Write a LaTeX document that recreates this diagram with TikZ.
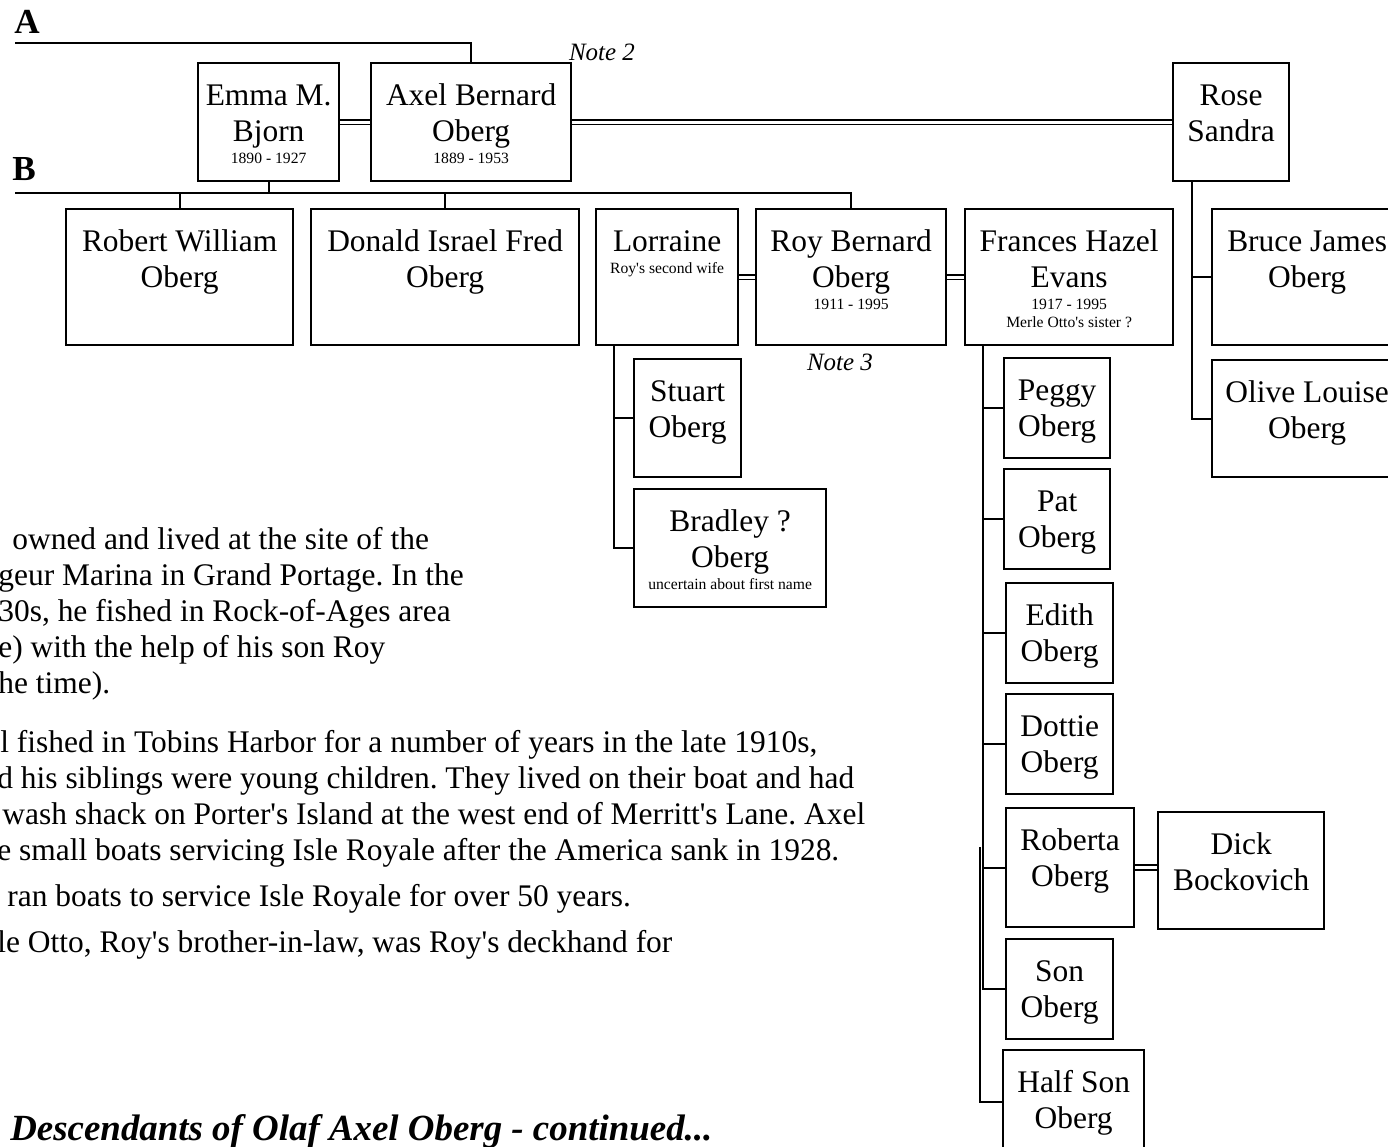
\documentclass[tikz,border=0pt]{standalone}
\usepackage{fontspec}
\setmainfont[Ligatures=TeXOff]{Liberation Serif}
\usetikzlibrary{calc}
\frenchspacing

\newdimen\px \px=0.02cm
\newcommand{\namefont}{\fontsize{17.9pt}{20.5pt}\selectfont}
\newcommand{\datefont}{\fontsize{8.9pt}{10.2pt}\selectfont}
\newcommand{\pcell}[3]{\parbox[t][#2\px][t]{#1\px}{\centering\rule{0pt}{42\px}#3}}

\tikzset{
  fam/.style={draw, line width=1.3pt, inner sep=0pt, anchor=north west, font=\namefont},
  link/.style={line width=1.3pt},
  wed/.style={double, line width=1pt, double distance=1.7pt},
  story/.style={inner sep=0pt, anchor=north west, align=left, font=\namefont},
  note/.style={font=\fontsize{14.2pt}{16pt}\selectfont\itshape},
  tag/.style={anchor=base west, inner sep=0pt, font=\fontsize{20pt}{22pt}\selectfont\bfseries}
}

\begin{document}
\begin{tikzpicture}[x=0.02cm, y=-0.02cm]

\useasboundingbox (0,0) rectangle (1388,1146);
\clip (0,0) rectangle (1388,1146);

% Generation A
\node[fam] (emma) at (197,62) {\pcell{141}{118}{Emma M.\\Bjorn\par\vspace{4\px}\datefont 1890 - 1927}};
\node[fam] (axel) at (370,62) {\pcell{200}{118}{Axel Bernard\\Oberg\par\vspace{4\px}\datefont 1889 - 1953}};
\node[fam] (rose) at (1172,62) {\pcell{116}{118}{Rose\\Sandra}};

% Generation B
\node[fam] (robert) at (65,208) {\pcell{227}{136}{Robert William\\Oberg}};
\node[fam] (donald) at (310,208) {\pcell{268}{136}{Donald Israel Fred\\Oberg}};
\node[fam] (lorraine) at (595,208) {\pcell{142}{136}{Lorraine\par\vspace{4\px}\datefont Roy's second wife}};
\node[fam] (roy) at (755,208) {\pcell{190}{136}{Roy Bernard\\Oberg\par\vspace{4\px}\datefont 1911 - 1995}};
\node[fam] (frances) at (964,208) {\pcell{208}{136}{Frances Hazel\\Evans\par\vspace{4\px}\datefont 1917 - 1995\\Merle Otto's sister ?}};
\node[fam] (bruce) at (1211,208) {\pcell{190}{136}{Bruce James\\Oberg}};
\node[fam] (olive) at (1211,359) {\pcell{190}{117}{Olive Louise\\Oberg}};

% Roy and Lorraine
\node[fam] (stuart) at (633,358) {\pcell{107}{118}{Stuart\\Oberg}};
\node[fam] (bradley) at (633,488) {\pcell{192}{118}{Bradley ?\\Oberg\par\vspace{4\px}\datefont uncertain about first name}};

% Roy and Frances
\node[fam] (peggy) at (1003,357) {\pcell{106}{100}{Peggy\\Oberg}};
\node[fam] (pat) at (1003,468) {\pcell{106}{100}{Pat\\Oberg}};
\node[fam] (edith) at (1005,582) {\pcell{107}{100}{Edith\\Oberg}};
\node[fam] (dottie) at (1005,693) {\pcell{107}{100}{Dottie\\Oberg}};
\node[fam] (roberta) at (1005,807) {\pcell{128}{119}{Roberta\\Oberg}};
\node[fam] (dick) at (1157,811) {\pcell{166}{117}{Dick\\Bockovich}};
\node[fam] (son) at (1005,938) {\pcell{107}{100}{Son\\Oberg}};
\node[fam] (halfson) at (1002,1049) {\pcell{141}{104}{Half Son\\Oberg}};

% Line labels and notes
\node[tag] (labA) at (14,33) {A};
\node[tag] (labB) at (12,180) {B};
\node[note] (note2) at (602,52) {Note 2};
\node[note] (note3) at (840,362) {Note 3};

% Lines of descent
\coordinate (lineA) at (15,43);
\coordinate (lineB) at (15,193);
\draw[link] (lineA) -| (axel.north);
\draw[link] (lineB) -| (roy.north);
\draw[link] (emma.south) -- (emma.south |- lineB);
\draw[link] (robert.north) -- (robert.north |- lineB);
\draw[link] (donald.north) -- (donald.north |- lineB);

\coordinate (lspine) at ($(lorraine.south west)+(19,0)$);
\draw[link] (lspine) |- (bradley.west);
\draw[link] (stuart.west) -- (stuart.west -| lspine);

\coordinate (rspine) at ($(rose.south west)+(20,0)$);
\draw[link] (rspine) |- (olive.west);
\draw[link] (bruce.west) -- (bruce.west -| rspine);

\coordinate (fspine) at ($(frances.south west)+(19,0)$);
\draw[link] (fspine) |- (son.west);
\foreach \kid in {peggy,pat,edith,dottie,roberta}
  \draw[link] (\kid.west) -- (\kid.west -| fspine);
\coordinate (hspine) at (980,847);
\draw[link] (hspine) |- (halfson.west);

% Marriages
\draw[wed] (emma.east) -- (axel.west);
\draw[wed] (axel.east) -- (rose.west);
\draw[wed] (lorraine.east) -- (roy.west);
\draw[wed] (roy.east) -- (frances.west);
\draw[wed] (roberta.east) -- (roberta.east -| dick.west);

% Notes text
\node[story] (story1) at (-2,527) {\hspace*{14\px}owned and lived at the site of the\\
geur Marina in Grand Portage. In the\\
30s, he fished in Rock-of-Ages area\\
e) with the help of his son Roy\\
he time).};
\node[story] (story2) at (-3,730) {\hspace*{3\px}l fished in Tobins Harbor for a number of years in the late 1910s,\\
d his siblings were young children. They lived on their boat and had\\
\hspace*{5\px}wash shack on Porter's Island at the west end of Merritt's Lane. Axel\\
e small boats servicing Isle Royale after the America sank in 1928.};
\node[story] (story3) at (-2,884) {\hspace*{9\px}ran boats to service Isle Royale for over 50 years.};
\node[story] (story4) at (-3,930) {le Otto, Roy's brother-in-law, was Roy's deckhand for};

\node[anchor=base west, inner sep=0pt, font=\fontsize{21pt}{24pt}\selectfont\bfseries\itshape] (title) at (10,1140) {Descendants of Olaf Axel Oberg - continued...};

\end{tikzpicture}
\end{document}
